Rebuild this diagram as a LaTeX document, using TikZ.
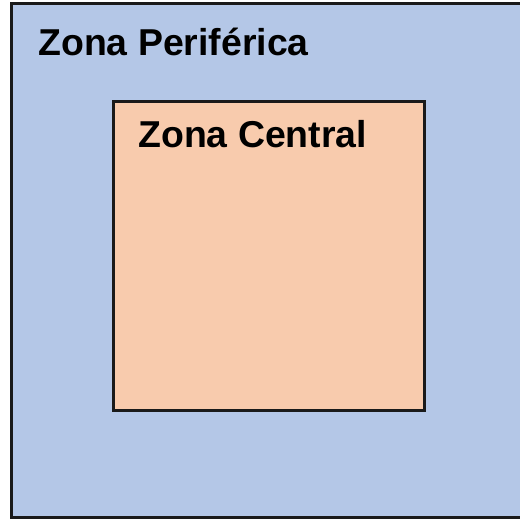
\documentclass[tikz,border=0pt]{standalone}
\usepackage{fontspec}
\setmainfont{Liberation Sans}
\usepackage{tikz}
\usetikzlibrary{positioning}
\definecolor{zoneblue}{HTML}{B4C7E7}
\definecolor{zonepeach}{HTML}{F8CBAD}
\definecolor{zoneline}{HTML}{1A1A1A}
\tikzstyle{zonebox} = [
  rectangle, draw=zoneline, line width=1.7pt, inner sep=0pt
]
\tikzstyle{zonelabel} = [
  anchor=base west, inner sep=0pt,
  font=\fontsize{21.3}{25}\selectfont\bfseries
]
\begin{document}
\begin{tikzpicture}[x=0.02cm, y=-0.02cm]

  % Frame
  \useasboundingbox (0, 0) rectangle (520, 521);
  \begin{scope}
    \clip (0, 0) rectangle (520, 521);

    % Zones
    \node[zonebox, fill=zoneblue, minimum width=10.3cm, minimum height=10.3cm] (periph) at (268.5, 260.5) {};
    \node[zonebox, fill=zonepeach, minimum width=6.24cm, minimum height=6.2cm] (central) at (269, 256) {};
  \end{scope}

  % Labels
  \node[zonelabel] (periphlabel) at (38, 55) {Zona Periférica};
  \node[zonelabel] (centrallabel) at (138, 147) {Zona Central};

\end{tikzpicture}
\end{document}
